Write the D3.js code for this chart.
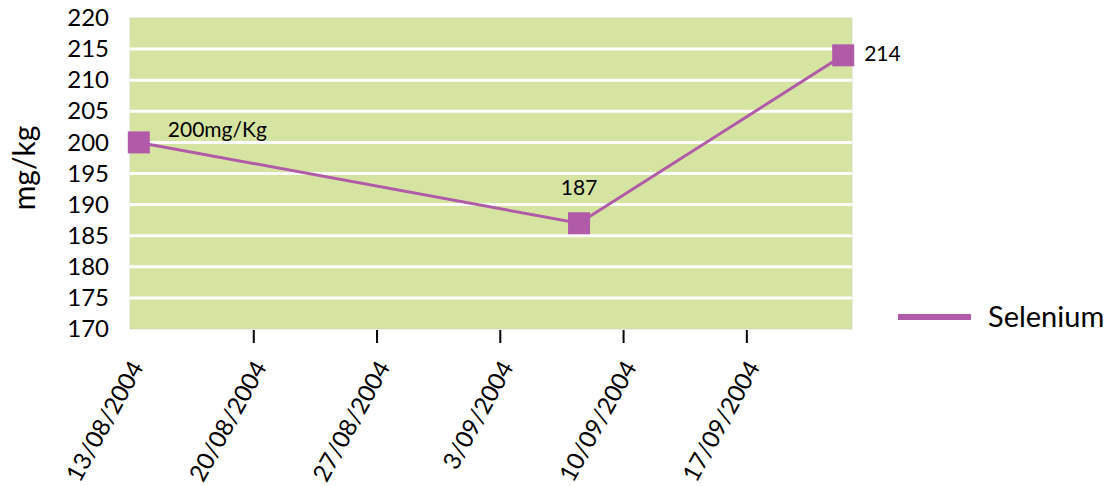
<!DOCTYPE html>
<html><head><meta charset="utf-8">
<script src="https://cdn.jsdelivr.net/npm/d3@7"></script>
<style>
body{margin:0;background:#fff;}
text{font-family:Lato, "Open Sans", sans-serif;fill:#000;}
</style></head>
<body><svg id="c" width="1112" height="486"></svg>
<script>
const dates = ["2004-08-13","2004-09-07","2004-09-22"];
const selenium = [200, 187, 214];
const pointLabels = ["200mg/Kg","187","214"];
const xTickDates = ["2004-08-20","2004-08-27","2004-09-03","2004-09-10","2004-09-17"];
const xTickLabels = ["13/08/2004","20/08/2004","27/08/2004","3/09/2004","10/09/2004","17/09/2004"];
const xLabelDates = ["2004-08-13","2004-08-20","2004-08-27","2004-09-03","2004-09-10","2004-09-17"];
const yTicks = [170,175,180,185,190,195,200,205,210,215,220];
const seriesName = "Selenium";
const yTitle = "mg/kg";

const parse = d3.utcParse("%Y-%m-%d");
const L = 130, R = 852, T = 18, B = 329;
const svg = d3.select("#c");
const x = d3.scaleUtc().domain([parse("2004-08-13"), parse("2004-09-23")]).range([L, R]);
const y = d3.scaleLinear().domain([170, 220]).range([B, T]);
const halfDay = 12*3600*1000;
const px = d => x(new Date(parse(d).getTime() + halfDay));
const color = "#b05aa8";

svg.append("rect").attr("x", L).attr("y", T).attr("width", R-L).attr("height", B-T)
  .attr("fill", "#d6e4a2").attr("stroke", "#d0d8b8").attr("stroke-width", 0.8);

svg.append("g").selectAll("line").data(yTicks.filter(v => v > 170 && v < 220)).join("line")
  .attr("x1", L).attr("x2", R).attr("y1", d => y(d)).attr("y2", d => y(d))
  .attr("stroke", "#fff").attr("stroke-width", 3);

// y axis labels
const yAxis = d3.axisLeft(y).tickValues(yTicks).tickSize(0).tickPadding(0);
const gy = svg.append("g").attr("transform", `translate(${L-21},0)`).call(yAxis);
gy.select(".domain").remove();
gy.selectAll("text").attr("font-size", 24).attr("font-family", "Lato");

// x axis ticks
const xAxis = d3.axisBottom(x).tickValues(xTickDates.map(parse)).tickSize(13).tickFormat("");
const gx = svg.append("g").attr("transform", `translate(0,${B+1})`).call(xAxis);
gx.select(".domain").remove();
gx.selectAll("line").attr("stroke", "#000").attr("stroke-width", 2);

svg.append("g").selectAll("text").data(xLabelDates).join("text")
  .attr("transform", d => `translate(${x(parse(d))+7},${363}) rotate(-61)`)
  .attr("text-anchor", "end").attr("dy", "0.35em")
  .attr("font-size", 24)
  .text((d, i) => xTickLabels[i]);

// y title
svg.append("text").attr("transform", `translate(35,${168}) rotate(-90)`)
  .attr("text-anchor", "middle").attr("font-size", 30).text(yTitle);

// line
const line = d3.line().x((d, i) => px(dates[i])).y(d => y(d));
svg.append("path").datum(selenium).attr("d", line).attr("fill", "none")
  .attr("stroke", color).attr("stroke-width", 3);

svg.append("g").selectAll("rect").data(selenium).join("rect")
  .attr("x", (d, i) => px(dates[i]) - 11).attr("y", d => y(d) - 11)
  .attr("width", 22).attr("height", 22).attr("fill", color);

// data labels
const offs = [[29, -13, "start"], [0, -36, "middle"], [21, -2, "start"]];
svg.append("g").selectAll("text").data(selenium).join("text")
  .attr("x", (d, i) => px(dates[i]) + offs[i][0])
  .attr("y", (d, i) => y(d) + offs[i][1])
  .attr("dy", "0.35em").attr("text-anchor", (d, i) => offs[i][2])
  .attr("font-size", 21).text((d, i) => pointLabels[i]);

// legend
svg.append("line").attr("x1", 898).attr("x2", 971).attr("y1", 317).attr("y2", 317)
  .attr("stroke", color).attr("stroke-width", 6);
svg.append("text").attr("x", 988).attr("y", 317).attr("dy", "0.35em")
  .attr("font-size", 29).text(seriesName);
</script></body></html>
